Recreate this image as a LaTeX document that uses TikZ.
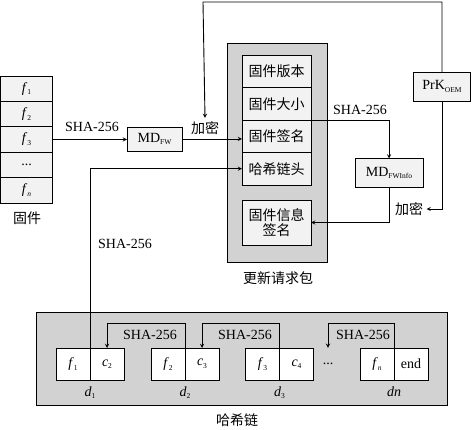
\documentclass[tikz,border=0pt]{standalone}
\usepackage{fontspec}
\setmainfont{Liberation Serif}
\newfontfamily\cjk{Noto Sans CJK SC}
\usepackage{xcolor}
\usetikzlibrary{positioning,arrows.meta}
\newcommand{\lowsub}[1]{\raisebox{-0.4ex}{\fontsize{7.5}{8}\selectfont #1}}

\begin{document}
\begin{tikzpicture}[x=1pt, y=-1pt,
  font=\fontsize{14}{15}\selectfont,
  fwrow/.style={draw, line width=0.9pt, fill=gray!10, outer sep=0pt, minimum width=52pt, minimum height=25.4pt},
  pkrow/.style={draw, line width=0.9pt, fill=gray!10, outer sep=0pt, minimum width=69pt, minimum height=32.5pt},
  mdbox/.style={draw, line width=0.9pt, fill=gray!10, outer sep=0pt, minimum height=29pt},
  hcell/.style={draw, line width=0.9pt, fill=white, outer sep=0pt, minimum width=34pt, minimum height=32pt},
  outer/.style={draw, line width=0.9pt, fill=gray!35, outer sep=0pt},
  arr/.style={->, line width=0.9pt, >=stealth}
]
  \useasboundingbox (0,0) rectangle (474,430);

  % firmware
  \node[fwrow] (f1) at (26.5,88.7) {\textit{f}\lowsub{1}};
  \node[fwrow, below=0pt of f1] (f2) {\textit{f}\lowsub{2}};
  \node[fwrow, below=0pt of f2] (f3) {\textit{f}\lowsub{3}};
  \node[fwrow, below=0pt of f3] (fdots) {...};
  \node[fwrow, below=0pt of fdots] (fn) {\textit{f}\lowsub{\textit{n}}};
  \node (fwlbl) at (27,218) {\cjk 固件};

  \node[mdbox, minimum width=55pt, minimum height=24pt] (mdfw) at (154.5,139) {MD\lowsub{FW}};
  \node (sha1) at (92,127) {SHA-256};
  \node (enc1) at (205,128) {\cjk 加密};

  % update request packet
  \node[outer, minimum width=100pt, minimum height=219pt] (pkt) at (277,152.5) {};
  \node[pkrow] (ver) at (276.5,71.25) {\cjk 固件版本};
  \node[pkrow, below=0pt of ver] (size) {\cjk 固件大小};
  \node[pkrow, below=0pt of size] (sig) {\cjk 固件签名};
  \node[pkrow, below=0pt of sig] (head) {\cjk 哈希链头};
  \node[pkrow, minimum height=45pt, align=center] (fwsig) at (276.5,222.5) {\cjk 固件信息\\\cjk 签名};
  \node (pktlbl) at (278,278) {\cjk 更新请求包};

  \node[mdbox, minimum width=68pt] (mdinfo) at (389,173) {MD\lowsub{FWInfo}};
  \node (sha2) at (360,110) {SHA-256};
  \node[mdbox, minimum width=57pt] (prk) at (442,86.5) {PrK\lowsub{OEM}};
  \node (enc2) at (409,209) {\cjk 加密};
  \coordinate (top) at (203,2);

  % hash chain
  \node[outer, minimum width=411pt, minimum height=93pt] (hbox) at (241.5,358.5) {};
  \node[hcell] (cf1) at (73,364) {\textit{f}\lowsub{1}};
  \node[hcell, right=0pt of cf1] (cc2) {\textit{c}\lowsub{2}};
  \node[hcell] (cf2) at (168,364) {\textit{f}\lowsub{2}};
  \node[hcell, right=0pt of cf2] (cc3) {\textit{c}\lowsub{3}};
  \node[hcell] (cf3) at (262.5,364) {\textit{f}\lowsub{3}};
  \node[hcell, right=0pt of cf3] (cc4) {\textit{c}\lowsub{4}};
  \node[minimum height=32pt, inner sep=0pt] (hdots) at (328,364) {...};
  \node[hcell] (cfn) at (377,364) {\textit{f}\lowsub{\textit{n}}};
  \node[hcell, right=0pt of cfn] (cend) {end};
  \node[below=3pt of cf1.south east] (d1) {\textit{d}\lowsub{1}};
  \node[below=3pt of cf2.south east] (d2) {\textit{d}\lowsub{2}};
  \node[below=3pt of cf3.south east] (d3) {\textit{d}\lowsub{3}};
  \node[below=3pt of cfn.south east] (dn) {\textit{dn}};
  \node (sha3) at (150,335) {SHA-256};
  \node (sha4) at (245,335) {SHA-256};
  \node (sha5) at (363,335) {SHA-256};
  \node (sha6) at (125,244) {SHA-256};
  \node (hlbl) at (237,420) {\cjk 哈希链};

  \draw[arr] (f3.east) -- (f3.east -| mdfw.west);
  \draw[arr] (mdfw.east) -- (mdfw.east -| sig.west);
  \draw[arr] (prk.north) |- (top) -- (enc1.north);
  \draw[arr] (size.south east) -| (mdinfo.north);
  \draw[arr] (mdinfo.south) |- (fwsig.east);
  \draw[arr] (prk.south) |- (enc2.east);
  \draw[arr] (cf1.north east) |- (head.west);
  \draw[arr] (cf2.north east) -- ++(0,-25) -| (cc2.north);
  \draw[arr] (cf3.north east) -- ++(0,-25) -| (cc3.north);
  \draw[arr] (cfn.north east) -- ++(0,-25) -| (hdots.north);
\end{tikzpicture}
\end{document}
